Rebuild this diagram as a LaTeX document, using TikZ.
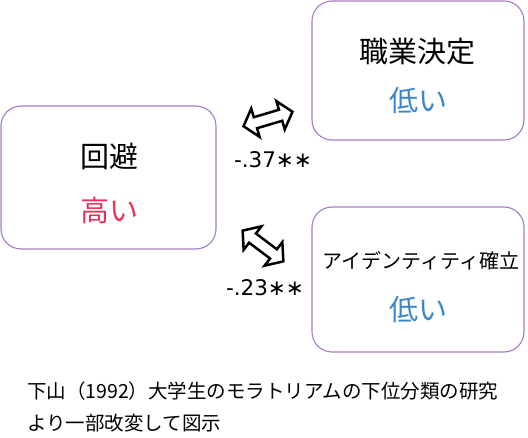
\documentclass[tikz,border=0pt]{standalone}
\usepackage{fontspec}
\setmainfont{Noto Sans CJK JP}
\newfontfamily\coeffont{DejaVu Sans}
\usetikzlibrary{shapes.arrows}
\definecolor{boxpurple}{HTML}{A67BC6}
\definecolor{hired}{HTML}{E5345A}
\definecolor{loblue}{HTML}{3A87CB}
\begin{document}
\begin{tikzpicture}[x=1pt,y=-1pt,
  box/.style={draw=boxpurple, line width=1.1pt, rounded corners=20pt, inner sep=0pt},
  bigtext/.style={font=\fontsize{29}{32}\selectfont, inner sep=0pt},
  midtext/.style={font=\fontsize{20}{24}\selectfont, inner sep=0pt},
  coef/.style={font=\coeffont\fontsize{21.5}{26}\selectfont, inner sep=0pt},
  captext/.style={font=\fontsize{19.5}{24}\selectfont, inner sep=0pt, anchor=west},
  dblarrow/.style={double arrow, draw=black, line width=2.5pt, minimum height=51pt,
    inner sep=4.5pt, double arrow head extend=9pt, double arrow tip angle=100}]
\useasboundingbox (0,0) rectangle (528,438);
% boxes
\node[box, minimum width=215pt, minimum height=143pt] (avoid) at (108.5,177.5) {};
\node[box, minimum width=212pt, minimum height=139pt] (career) at (418,70.5) {};
\node[box, minimum width=212pt, minimum height=145pt] (ident) at (418,279.5) {};
% texts
\node[bigtext] (t1) at (109,156) {回避};
\node[bigtext, text=hired] (t2) at (109,210) {高い};
\node[bigtext] (t3) at (417,52) {職業決定};
\node[bigtext, text=loblue] (t4) at (418,101) {低い};
\node[midtext] (t5) at (421,261) {アイデンティティ確立};
\node[bigtext, text=loblue] (t6) at (418,310) {低い};
% arrows
\node[dblarrow, rotate=16.5] (a1) at (268,119) {};
\node[dblarrow, rotate=-37] (a2) at (263,246) {};
\node[coef] (c1) at (273,160) {-.37∗∗};
\node[coef] (c2) at (265,288) {-.23∗∗};
% caption
\node[captext] (cap1) at (27,391) {下山（1992）大学生のモラトリアムの下位分類の研究};
\node[captext] (cap2) at (27,423) {より一部改変して図示};
\end{tikzpicture}
\end{document}
